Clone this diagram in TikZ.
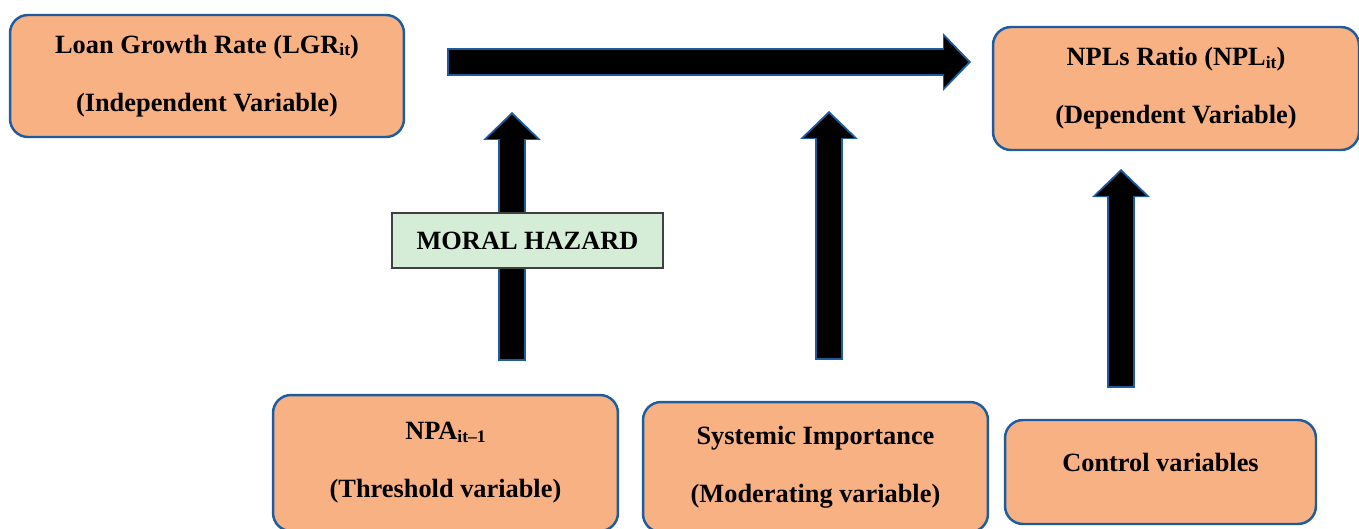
\documentclass[tikz,border=0pt]{standalone}
\usepackage{fontspec}
\setmainfont{Liberation Serif}
\usepackage{tikz}
\usetikzlibrary{arrows.meta,positioning}

\definecolor{boxfill}{RGB}{248,177,131}
\definecolor{boxblue}{RGB}{30,92,158}
\definecolor{hazfill}{RGB}{213,237,215}
\newcommand{\subtxt}[1]{\raisebox{-0.2ex}{\fontsize{10}{10}\selectfont #1}}

\tikzset{
  varbox/.style={draw=boxblue,fill=boxfill,line width=1.4pt,rounded corners=0.36cm,
    align=center,inner sep=0pt,font=\fontsize{15}{33}\selectfont\bfseries},
  fatarrow/.style={draw=black,line width=0.48cm,shorten <=0.04cm,shorten >=0.056cm,
    -{Triangle[width=1.0cm,length=0.48cm,line width=0pt]},
    preaction={draw=boxblue,line width=0.56cm,shorten <=0pt,shorten >=0pt,
      -{Triangle[width=1.16cm,length=0.56cm,line width=0pt]}}}
}

\begin{document}
\begin{tikzpicture}[x=0.02cm,y=-0.02cm]
\useasboundingbox (0,0) rectangle (1359,528);
\node (lgr)[varbox,minimum width=7.88cm,minimum height=2.44cm] at (207,76)
  {Loan Growth Rate (LGR\subtxt{it})\\(Independent Variable)};
\node (npl)[varbox,minimum width=7.32cm,minimum height=2.46cm] at (1176,88.5)
  {NPLs Ratio (NPL\subtxt{it})\\(Dependent Variable)};
\node (npa)[varbox,minimum width=6.9cm,minimum height=2.72cm] at (445.5,463)
  {NPA\subtxt{it--1}\\(Threshold variable)};
\node (sys)[varbox,minimum width=6.9cm,minimum height=2.6cm] at (815.5,467)
  {Systemic Importance\\(Moderating variable)};
\node (ctrl)[varbox,minimum width=6.22cm,minimum height=2.08cm] at (1160.5,472)
  {\raisebox{0.4cm}{Control variables}};

% free ends of the arrows
\coordinate (lgrout) at (447,62);
\coordinate (nplin) at (971,62);
\coordinate (npaout) at (512,361);
\coordinate (modone) at (512,112);
\coordinate (sysout) at (829,360);
\coordinate (modtwo) at (829,111);
\coordinate (ctrlout) at (1121,388);
\coordinate (nplbelow) at (1121,169);

% draw the connections
\draw[fatarrow] (lgrout)--(nplin);
\draw[fatarrow] (npaout)--(modone);
\draw[fatarrow] (sysout)--(modtwo);
\draw[fatarrow] (ctrlout)--(nplbelow);

\node (hazard)[draw=black!75,fill=hazfill,line width=1pt,inner sep=0pt,
  minimum width=5.42cm,minimum height=1.1cm,font=\fontsize{15}{16}\selectfont\bfseries]
  at (527.5,240.5) {MORAL HAZARD};
\end{tikzpicture}
\end{document}
